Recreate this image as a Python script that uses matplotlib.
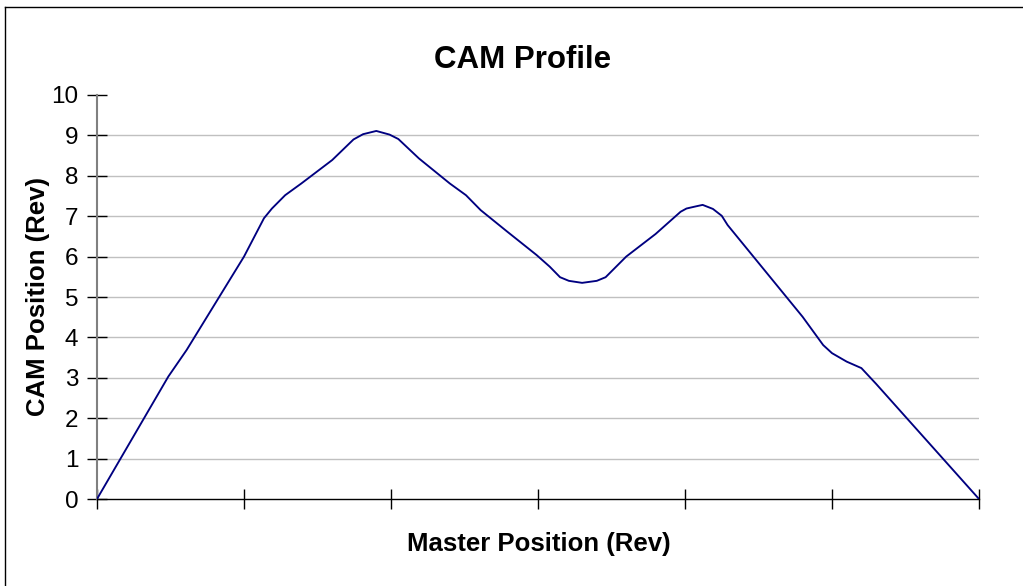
import matplotlib
matplotlib.use("Agg")
import matplotlib.pyplot as plt
from matplotlib.lines import Line2D

plt.rcParams['font.family'] = ['Liberation Sans', 'DejaVu Sans']

# Master position (in tick intervals) and CAM position (Rev)
master_pos = [0.00, 0.485, 0.61, 1.00, 1.136, 1.19, 1.28, 1.39, 1.60, 1.745,
              1.81, 1.90, 1.99, 2.05, 2.19, 2.40, 2.51, 2.61, 2.79, 2.99,
              3.08, 3.15, 3.21, 3.30, 3.40, 3.46, 3.60, 3.80, 3.97, 4.01,
              4.07, 4.12, 4.19, 4.25, 4.29, 4.80, 4.94, 5.00, 5.10, 5.20,
              5.30, 6.00]
cam_pos = [0.00, 3.03, 3.69, 6.00, 6.95, 7.19, 7.52, 7.81, 8.39, 8.90,
           9.03, 9.11, 9.02, 8.91, 8.43, 7.81, 7.52, 7.15, 6.62, 6.04,
           5.75, 5.49, 5.40, 5.35, 5.40, 5.49, 6.00, 6.56, 7.11, 7.19,
           7.24, 7.28, 7.18, 7.01, 6.78, 4.51, 3.81, 3.61, 3.40, 3.24,
           2.85, 0.00]
x_ticks = [0, 1, 2, 3, 4, 5, 6]
y_ticks = [0, 1, 2, 3, 4, 5, 6, 7, 8, 9, 10]

W, H = 1023, 586
fig = plt.figure(figsize=(W / 100, H / 100), dpi=100)
ax = fig.add_axes([97 / W, (H - 499) / H, (979 - 97) / W, (499 - 95) / H])

ax.plot(master_pos, cam_pos, color='#000080', lw=1.35, zorder=3)

ax.set_xlim(0, 6)
ax.set_ylim(0, 10)
ax.set_xticks(x_ticks)
ax.set_xticklabels([])
ax.set_yticks(y_ticks)
ax.set_yticklabels([str(v) for v in y_ticks], fontsize=17.5)

# horizontal gridlines (none at the top value)
for v in y_ticks[1:-1]:
    ax.axhline(v, color='#c0c0c0', lw=1.0, zorder=1)

for side in ('top', 'right'):
    ax.spines[side].set_visible(False)
ax.spines['left'].set_color('#808080')
ax.spines['left'].set_linewidth(1.5)
ax.spines['bottom'].set_color('#000000')
ax.spines['bottom'].set_linewidth(1.0)
ax.tick_params(axis='both', direction='inout', length=15, width=1.0,
               color='#000000', pad=8)
ax.tick_params(axis='y', pad=6)

fig.text(523 / W, 1 - 60 / H, 'CAM Profile', ha='center', va='center',
         fontsize=22.5, fontweight='bold')
fig.text(539 / W, 1 - 544 / H, 'Master Position (Rev)', ha='center',
         va='center', fontsize=18.5, fontweight='bold')
fig.text(38 / W, 1 - 297 / H, 'CAM Position (Rev)', ha='center',
         va='center', rotation=90, fontsize=18.5, fontweight='bold')

# chart frame (top and left edges)
fig.add_artist(Line2D([5 / W, 5 / W], [0, 1 - 6.5 / H], transform=fig.transFigure,
                      color='black', lw=1.0))
fig.add_artist(Line2D([5 / W, 1], [1 - 6.5 / H, 1 - 6.5 / H], transform=fig.transFigure,
                      color='black', lw=1.0))

fig.savefig('out.png', dpi=100)
